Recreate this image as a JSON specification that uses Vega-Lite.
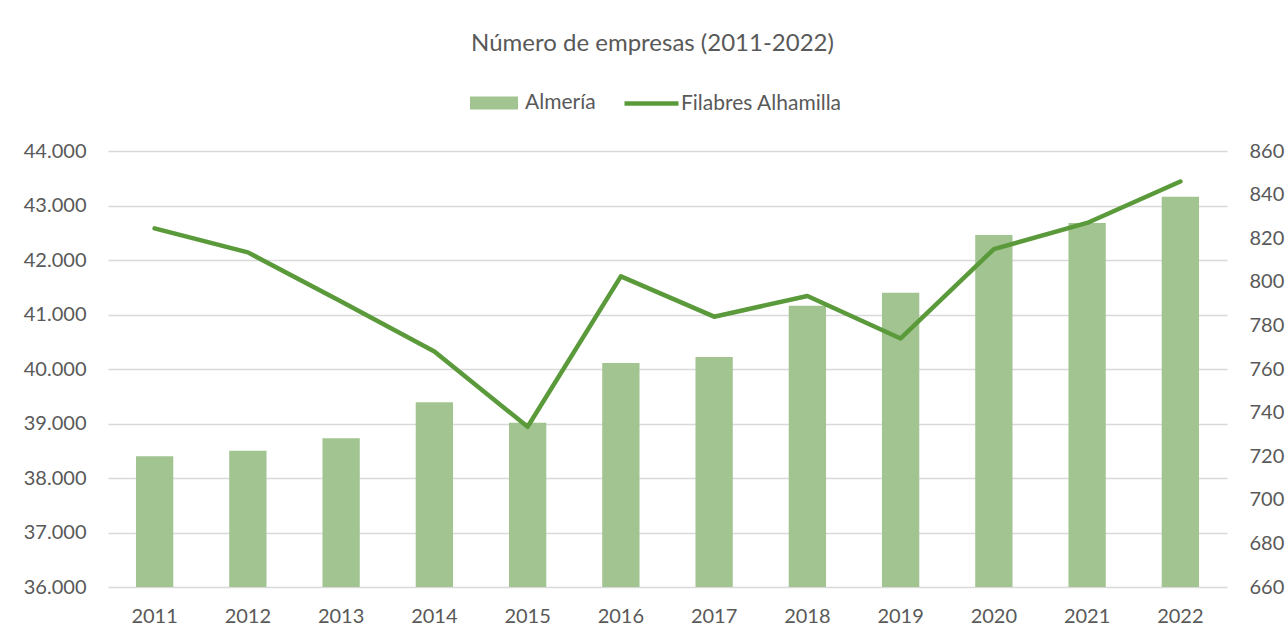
{
  "$schema": "https://vega.github.io/schema/vega-lite/v6.json",
  "width": 1119,
  "height": 436,
  "autosize": {"type": "none"},
  "padding": {"left": 108, "top": 151, "right": 61, "bottom": 53},
  "background": "white",
  "title": {
    "text": "Número de empresas (2011-2022)",
    "font": "Lato",
    "fontSize": 24,
    "fontWeight": "normal",
    "color": "#595959",
    "anchor": "middle",
    "dx": -15,
    "frame": "group",
    "offset": 18
  },
  "data": {
    "values": [
      {"year": "2011", "almeria": 38400, "filabres": 824.5},
      {"year": "2012", "almeria": 38500, "filabres": 813.5},
      {"year": "2013", "almeria": 38730, "filabres": 791},
      {"year": "2014", "almeria": 39390, "filabres": 768},
      {"year": "2015", "almeria": 39015, "filabres": 733.5},
      {"year": "2016", "almeria": 40110, "filabres": 802.5},
      {"year": "2017", "almeria": 40220, "filabres": 784},
      {"year": "2018", "almeria": 41160, "filabres": 793.5},
      {"year": "2019", "almeria": 41400, "filabres": 774},
      {"year": "2020", "almeria": 42460, "filabres": 815},
      {"year": "2021", "almeria": 42680, "filabres": 827},
      {"year": "2022", "almeria": 43160, "filabres": 846}
    ]
  },
  "layer": [
    {
      "mark": {"type": "bar"},
      "encoding": {
        "x": {
          "field": "year",
          "type": "ordinal",
          "scale": {"paddingInner": 0.6, "paddingOuter": 0.3},
          "axis": {"title": null, "labelAngle": 0, "domain": false, "ticks": false, "labelPadding": 19, "grid": false}
        },
        "y": {
          "field": "almeria",
          "type": "quantitative",
          "scale": {"domain": [36000, 44000], "zero": false, "nice": false},
          "axis": {
            "orient": "left",
            "title": null,
            "values": [36000, 37000, 38000, 39000, 40000, 41000, 42000, 43000, 44000],
            "labelExpr": "replace(format(datum.value, ','), ',', '.')",
            "grid": true,
            "domain": false,
            "ticks": false,
            "labelPadding": 22
          }
        },
        "y2": {"datum": 36000},
        "fill": {
          "datum": "Almería",
          "type": "nominal",
          "scale": {"range": ["#A2C491"]},
          "legend": {
            "title": null,
            "orient": "none",
            "legendX": 362,
            "legendY": -72,
            "symbolType": "M-1,-0.27H1V0.27H-1Z",
            "symbolSize": 2304,
            "symbolStrokeWidth": 0,
            "symbolOpacity": 1,
            "labelOffset": 7,
            "labelLimit": 300
          }
        }
      }
    },
    {
      "mark": {"type": "line", "strokeWidth": 4.5, "strokeCap": "round", "strokeJoin": "round"},
      "encoding": {
        "x": {"field": "year", "type": "ordinal"},
        "y": {
          "field": "filabres",
          "type": "quantitative",
          "scale": {"domain": [660, 860], "zero": false, "nice": false},
          "axis": {
            "orient": "right",
            "title": null,
            "values": [660, 680, 700, 720, 740, 760, 780, 800, 820, 840, 860],
            "grid": false,
            "domain": false,
            "ticks": false,
            "labelPadding": 22
          }
        },
        "stroke": {
          "datum": "Filabres Alhamilla",
          "type": "nominal",
          "scale": {"range": ["#5B9A3B"]},
          "legend": {
            "title": null,
            "orient": "none",
            "legendX": 514,
            "legendY": -77,
            "symbolType": "stroke",
            "symbolSize": 2916,
            "symbolStrokeWidth": 4.5,
            "labelOffset": 0,
            "labelLimit": 300
          }
        }
      }
    }
  ],
  "resolve": {"scale": {"y": "independent"}},
  "config": {
    "font": "Lato",
    "view": {"stroke": null},
    "axis": {
      "labelFont": "Lato",
      "labelFontSize": 20,
      "labelColor": "#595959",
      "gridColor": "#D9D9D9",
      "gridWidth": 1.5
    },
    "legend": {
      "labelFont": "Lato",
      "labelFontSize": 21,
      "labelColor": "#595959",
      "padding": 0,
      "labelLimit": 300
    }
  }
}
